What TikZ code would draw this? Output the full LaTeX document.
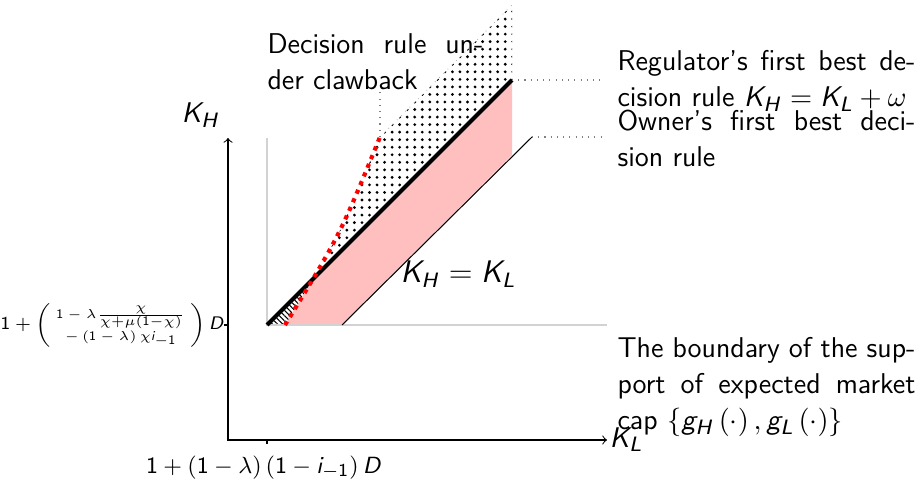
\documentclass[tikz,border=0pt]{standalone}
\usepackage{amsmath}
\usetikzlibrary{patterns,patterns.meta}
\renewcommand{\familydefault}{\sfdefault}
\DeclareSymbolFont{sfit}{OT1}{cmss}{m}{sl}
\DeclareSymbolFont{sfup}{OT1}{cmss}{m}{n}
\DeclareMathSymbol{K}{\mathalpha}{sfit}{`K}
\DeclareMathSymbol{H}{\mathalpha}{sfit}{`H}
\DeclareMathSymbol{L}{\mathalpha}{sfit}{`L}
\DeclareMathSymbol{D}{\mathalpha}{sfit}{`D}
\DeclareMathSymbol{i}{\mathalpha}{sfit}{`i}
\DeclareMathSymbol{g}{\mathalpha}{sfit}{`g}
\DeclareMathSymbol{1}{\mathalpha}{sfup}{`1}
\begin{document}
\begin{tikzpicture}[x=0.3846pt,y=-0.3846pt,
  axisline/.style={<->,line width=0.4pt},
  guide/.style={gray!35,line width=0.6pt},
  pointer/.style={gray,dotted,line width=0.4pt},
  lbl/.style={inner sep=0pt,font=\fontsize{11}{13.85}\selectfont},
  para/.style={lbl,anchor=north west,align=justify,text width=114.6pt},
  thickrule/.style={line width=1.6pt},
  thinrule/.style={line width=0.4pt},
  clawback/.style={red,dotted,line width=1.6pt},
]
\useasboundingbox (0,0) rectangle (922,479);
\coordinate (O) at (228,440);
\coordinate (Ytop) at (228,138);
\coordinate (Xend) at (607,440);
\coordinate (A) at (267,325);
\coordinate (Agr) at (267,138);
\coordinate (Bgr) at (607,325);
\coordinate (T) at (512,80);
\coordinate (B) at (342,325);
\coordinate (U) at (532,137);
\coordinate (R0) at (285,325);
\coordinate (C) at (340,235);
\coordinate (R1) at (380,137);
\coordinate (Top) at (512,5);
\coordinate (Tp) at (603,80);
\coordinate (Up) at (603,137);
\coordinate (Rp) at (380,92);
\coordinate (ytk0) at (228,325);
\coordinate (ytk1) at (224,325);
\coordinate (xtk0) at (267,440);
\coordinate (xtk1) at (267,444);

% pink region
\begin{scope}
 \clip (A) -- (T) -- (512,155) -- (B) -- cycle;
 \fill[red!25] (R0) .. controls (C) .. (R1) -- (380,0) -- (700,0) -- (700,400) -- (285,400) -- cycle;
\end{scope}
% dotted region
\begin{scope}
 \clip (A) -- (T) -- (512,0) -- (200,0) -- (200,325) -- cycle;
 \fill[pattern={Dots[distance=2.9pt,radius=0.6pt]}] (R0) .. controls (C) .. (R1) -- (Top) -- (512,400) -- cycle;
\end{scope}
% hatched region
\begin{scope}
 \clip (A) -- (T) -- (512,325) -- cycle;
 \fill[pattern={Lines[angle=-45,distance=1.4pt,line width=0.4pt]}] (R0) .. controls (C) .. (R1) -- (200,137) -- (200,400) -- (285,400) -- cycle;
\end{scope}

\draw[guide] (Agr) -- (A) -- (Bgr);
\draw[axisline] (Ytop) -- (O) -- (Xend);
\draw[thinrule] (ytk0) -- (ytk1);
\draw[thinrule] (xtk0) -- (xtk1);
\draw[thinrule] (B) -- (U);
\draw[thickrule] (A) -- (T);
\draw[clawback] (R0) .. controls (C) .. (R1);
\draw[gray!60,dotted,line width=0.3pt] (R1) -- (Top);
\draw[pointer] (T) -- (Tp);
\draw[pointer] (U) -- (Up);
\draw[pointer] (R1) -- (Rp);

\node[para] (reg) at (617,50) {Regulator’s first best de-\linebreak cision rule $K_H=K_L+\omega$};
\node[para] (own) at (617,110) {Owner’s first best deci-\linebreak sion rule};
\node[para] (bnd) at (617,337) {The boundary of the sup-\linebreak port of expected market\linebreak cap $\left\{g_H\left(\cdot\right),g_L\left(\cdot\right)\right\}$};
\node[para,text width=83pt] (dec) at (267,33) {Decision rule un-\linebreak der clawback};
\node[lbl,anchor=base west,font=\large] (eq) at (400,283) {$K_H=K_L$};
\node[lbl,anchor=base west] (kh) at (181,123) {$K_H$};
\node[lbl,anchor=base west] (kl) at (609,447) {$K_L$};
\node[lbl,anchor=base,font=\fontsize{9.5}{11}\selectfont] (xt) at (264,473) {$1+\left(1-\lambda\right)\left(1-i_{-1}\right)D$};
\node[lbl,anchor=east,font=\scriptsize] (yt) at (225,325) {$1+\left(\mbox{\tiny\setlength{\arraycolsep}{2pt}$\begin{array}{c}1-\lambda\frac{\chi}{\chi+\mu\left(1-\chi\right)}\\-\left(1-\lambda\right)\chi i_{-1}\end{array}$}\right)D$};
\end{tikzpicture}
\end{document}
